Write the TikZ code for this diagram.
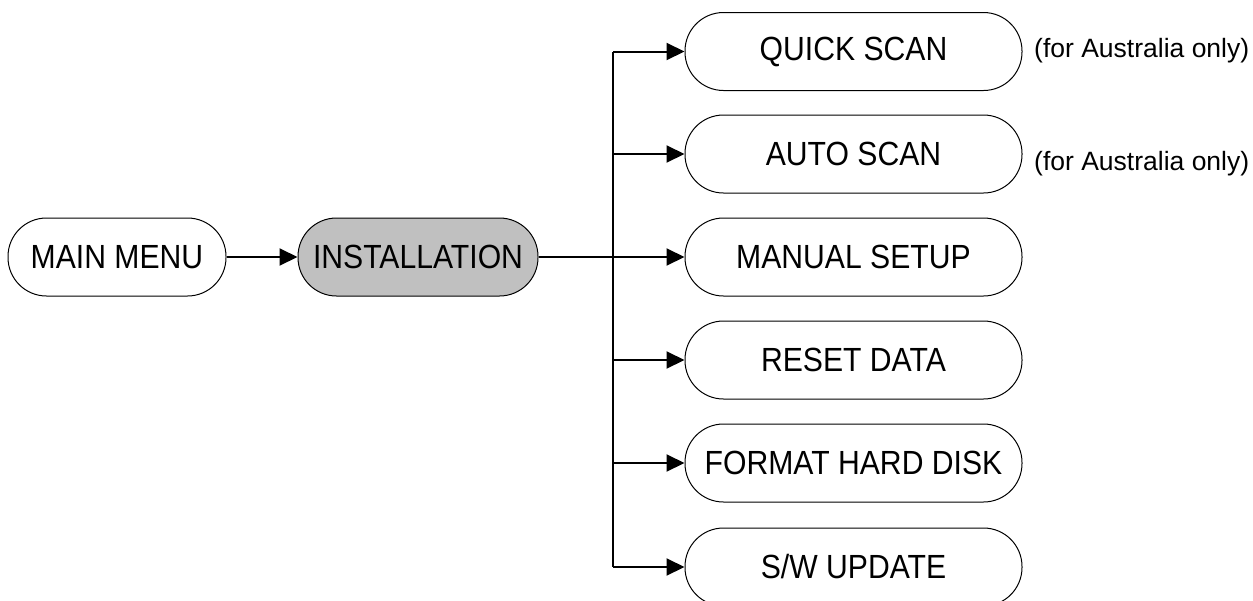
\documentclass[tikz,border=0pt]{standalone}
\usepackage{fontspec}
\setmainfont{Liberation Sans}[FakeStretch=0.9]
\newfontfamily\notefont{Liberation Sans}
\usetikzlibrary{arrows.meta}
\definecolor{boxgray}{HTML}{C0C0C0}
\tikzset{
  menubox/.style={draw=black, line width=1pt, rectangle, rounded corners=38.5pt,
    minimum height=78pt, inner sep=0pt, font=\fontsize{33.5}{40}\selectfont},
  sidebox/.style={menubox, minimum width=337pt},
  conn/.style={line width=2pt, -{Triangle[length=18pt,width=17pt]}},
  plainline/.style={line width=2pt},
  note/.style={anchor=west, inner sep=0pt, font=\notefont\fontsize{26.5}{30}\selectfont}
}
\begin{document}
\begin{tikzpicture}[x=1pt,y=-1pt]
\clip (0,0) rectangle (1253,600);
\fill[white] (0,0) rectangle (1253,600);
\node[menubox, minimum width=218pt] (main) at (117,257) {MAIN MENU};
\node[menubox, minimum width=240pt, fill=boxgray] (inst) at (418,257) {INSTALLATION};
\node[sidebox] (quick) at (853.5,51.5) {QUICK SCAN};
\node[sidebox] (auto) at (853.5,154) {AUTO SCAN};
\node[sidebox] (manual) at (853.5,257) {MANUAL SETUP};
\node[sidebox] (reset) at (853.5,360) {RESET DATA};
\node[sidebox] (format) at (853.5,463) {FORMAT HARD DISK};
\node[sidebox] (sw) at (853.5,567) {S/W UPDATE};
\node[note] (n1) at (1034,51) {(for Australia only)};
\node[note] (n2) at (1034,164) {(for Australia only)};
\coordinate (jq) at (613,51.5);
\coordinate (ja) at (613,154);
\coordinate (jr) at (613,360);
\coordinate (jf) at (613,463);
\coordinate (js) at (613,567);
\draw[conn] (main.east) -- (inst.west);
\draw[conn] (inst.east) -- (manual.west);
\draw[plainline] (jq) -- (js);
\draw[conn] (jq) -- (quick.west);
\draw[conn] (ja) -- (auto.west);
\draw[conn] (jr) -- (reset.west);
\draw[conn] (jf) -- (format.west);
\draw[conn] (js) -- (sw.west);
\end{tikzpicture}
\end{document}
